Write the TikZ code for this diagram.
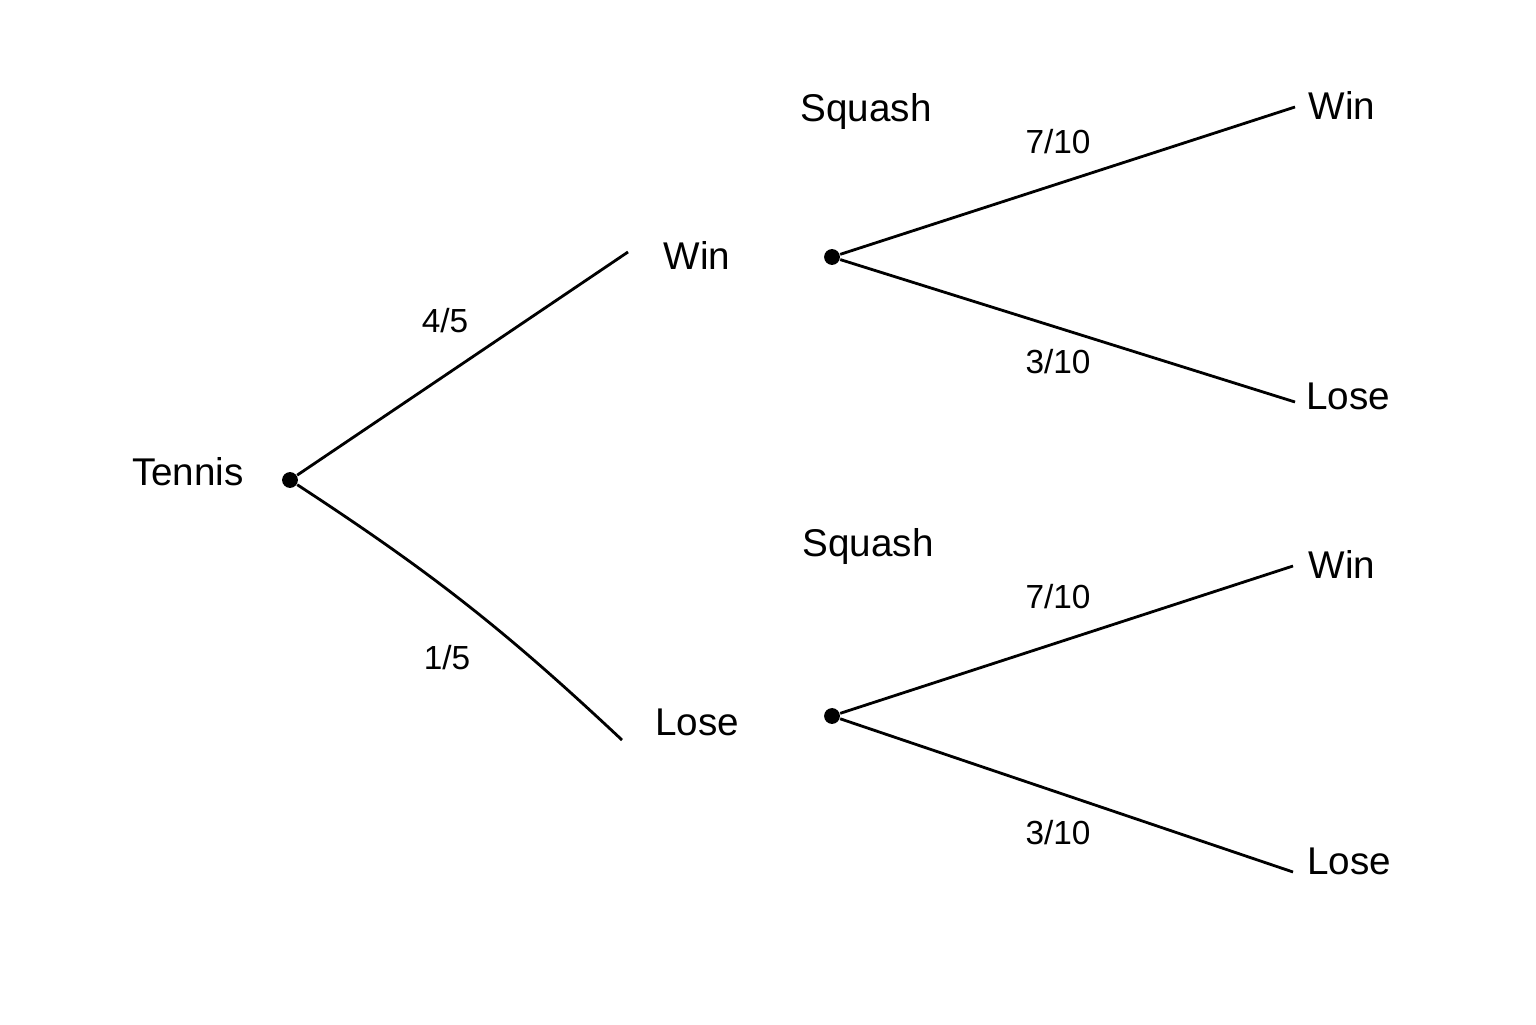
\documentclass[tikz,border=0pt]{standalone}
\usepackage{fontspec}
\setmainfont{Liberation Sans}
\tikzset{dot/.style={circle, fill=black, inner sep=0pt, minimum size=4.5pt}}
\tikzset{lbl/.style={font=\fontsize{11}{13}\selectfont}}
\tikzset{prob/.style={font=\fontsize{9.5}{11}\selectfont}}
\begin{document}
\begin{tikzpicture}[line join = round, x=1cm, y=1cm]
\useasboundingbox (0,0) rectangle (15.36,10.24);

\node[dot] (t) at (2.90,5.44) {};
\node[lbl] (tl) at (1.88,5.52) {Tennis};
\coordinate (w) at (6.28,7.72);
\coordinate (l) at (6.22,2.84);
\node[lbl] at (6.97,7.69) {Win};
\node[lbl] at (6.97,3.02) {Lose};
\draw[thick] (t) -- (w);
\draw[thick] (t) to[bend left=5] (l);
\node[prob] at (4.45,7.03) {4/5};
\node[prob] at (4.47,3.66) {1/5};

% squash after tennis win
\node[dot] (s1) at (8.32,7.67) {};
\node[lbl] at (8.66,9.12) {Squash};
\coordinate (s1w) at (12.95,9.17);
\coordinate (s1l) at (12.95,6.22);
\draw[thick] (s1) -- (s1w);
\draw[thick] (s1) -- (s1l);
\node[lbl] at (13.42,9.19) {Win};
\node[lbl] at (13.48,6.28) {Lose};
\node[prob] at (10.58,8.82) {7/10};
\node[prob] at (10.58,6.62) {3/10};

% squash after tennis lose
\node[dot] (s2) at (8.32,3.08) {};
\node[lbl] at (8.68,4.78) {Squash};
\coordinate (s2w) at (12.93,4.58);
\coordinate (s2l) at (12.93,1.52);
\draw[thick] (s2) -- (s2w);
\draw[thick] (s2) -- (s2l);
\node[lbl] at (13.42,4.60) {Win};
\node[lbl] at (13.49,1.63) {Lose};
\node[prob] at (10.58,4.27) {7/10};
\node[prob] at (10.58,1.91) {3/10};

\end{tikzpicture}
\end{document}
